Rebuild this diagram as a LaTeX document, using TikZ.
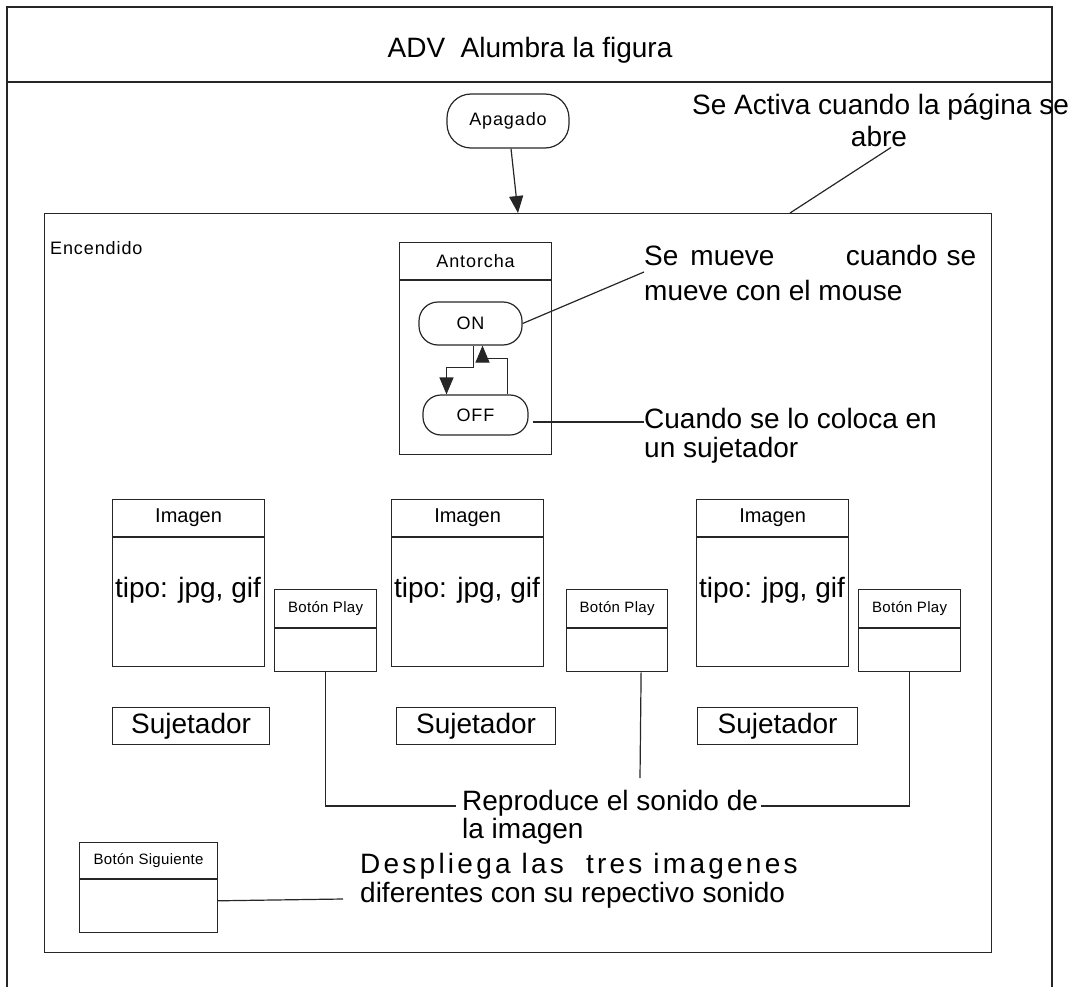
\documentclass[tikz,border=0pt]{standalone}
\usepackage{fontspec}
\setmainfont{Liberation Sans}
\newfontfamily\spfont[LetterSpace=5]{Liberation Sans}
\newfontfamily\btfont[LetterSpace=2]{Liberation Sans}
\newfontfamily\desfont[LetterSpace=11.6]{Liberation Sans}
\usetikzlibrary{arrows.meta}
\newcommand\myfs[1]{\fontsize{#1}{#1}\selectfont}
\begin{document}
\begin{tikzpicture}[x=1pt,y=-1pt,
 ln/.style={line width=1.2pt, draw=black!85},
 cls/.style={ln, rectangle, inner sep=0pt, anchor=north west},
 rnd/.style={ln, rectangle, inner sep=0pt},
 txt/.style={inner sep=0pt, anchor=base west},
 tip/.style={-{Triangle[length=17pt,width=14pt]}},
 sm/.style={font=\spfont\myfs{18}},
 bt/.style={font=\btfont\myfs{15}},
 big/.style={font=\myfs{28}},
]
\useasboundingbox (0,0) rectangle (1070,987);
% outer frame
\draw[ln] (7,995) -- (7,7) -- (1052,7) -- (1052,995);
\draw[ln] (7,82) -- (1052,82);
\node[txt, anchor=base, font=\myfs{28}] (title) at (530,58) {ADV~ Alumbra la figura};

% Apagado
\node[rnd, sm, minimum width=122, minimum height=54, rounded corners=24] (apagado) at (508,121) {Apagado};

% Encendido
\node[cls, minimum width=947, minimum height=739] (enc) at (44,213) {};
\node[txt, sm] (enclbl) at (50,254) {Encendido};
\coordinate (encTop) at (518,213);
\draw[ln, tip] ([xshift=3pt]apagado.south) -- (encTop);

% Se Activa
\node[txt, big] (act1) at (692,115) {Se Activa cuando la página se};
\node[txt, big, anchor=base] (act2) at (879,147) {abre};
\coordinate (actEnd) at (790,213);
\draw[ln] ([xshift=12pt]act2.south) -- (actEnd);

% Antorcha
\node[cls, sm, minimum width=152, minimum height=37] (antH) at (399,242) {Antorcha};
\node[cls, minimum width=152, minimum height=174] (antB) at (antH.south west) {};
\node[rnd, sm, minimum width=103, minimum height=43, rounded corners=19] (on) at (470.5,323.5) {ON};
\node[rnd, sm, minimum width=105, minimum height=40, rounded corners=18] (off) at (475.5,415) {OFF};
\draw[ln, tip] ([xshift=3pt]on.south) -- ++(0,22) -| ([xshift=-29pt]off.north);
\draw[ln, tip] ([xshift=32pt]off.north) -- ++(0,-36) -| ([xshift=12pt]on.south);

\node[txt, big] (mv1) at (644,265) {\hbox to 332pt{Se\hskip 12pt mueve\hfill cuando\hskip 9pt se}};
\node[txt, big] (mv2) at (644,300) {mueve con el mouse};
\draw[ln] (on.east) -- ([yshift=-7pt]mv1.base west);

\node[txt, big] (cs1) at (644,428) {Cuando se lo coloca en};
\node[txt, big] (cs2) at (644,457) {un sujetador};
\draw[ln] ([xshift=4pt,yshift=-7pt]off.east) -- ([yshift=6pt]cs1.base west);

% Imagen boxes
\node[cls, font=\myfs{20}, minimum width=152, minimum height=37] (img1h) at (112,499) {Imagen};
\node[cls, minimum width=152, minimum height=129] (img1b) at (img1h.south west) {};
\node[txt, anchor=base, big] (tipo1) at (188,597) {tipo: jpg, gif};

\node[cls, font=\myfs{20}, minimum width=152, minimum height=37] (img2h) at (391,499) {Imagen};
\node[cls, minimum width=152, minimum height=129] (img2b) at (img2h.south west) {};
\node[txt, anchor=base, big] (tipo2) at (467,597) {tipo: jpg, gif};

\node[cls, font=\myfs{20}, minimum width=152, minimum height=37] (img3h) at (696,499) {Imagen};
\node[cls, minimum width=152, minimum height=129] (img3b) at (img3h.south west) {};
\node[txt, anchor=base, big] (tipo3) at (772,597) {tipo: jpg, gif};

% Boton Play boxes
\node[cls, bt, minimum width=102, minimum height=38] (p1h) at (274,589) {Botón Play};
\node[cls, minimum width=102, minimum height=43] (p1b) at (p1h.south west) {};
\node[cls, bt, minimum width=101, minimum height=38] (p2h) at (566,589) {Botón Play};
\node[cls, minimum width=101, minimum height=43] (p2b) at (p2h.south west) {};
\node[cls, bt, minimum width=102, minimum height=38] (p3h) at (858,589) {Botón Play};
\node[cls, minimum width=102, minimum height=43] (p3b) at (p3h.south west) {};

% Sujetadores
\node[cls, font=\myfs{28}, minimum width=157, minimum height=37] (s1) at (112,707) {Sujetador};
\node[cls, font=\myfs{28}, minimum width=159, minimum height=37] (s2) at (396,707) {Sujetador};
\node[cls, font=\myfs{28}, minimum width=160, minimum height=37] (s3) at (697,707) {Sujetador};

% Reproduce
\node[txt, big] (rep1) at (462,810) {Reproduce el sonido de};
\node[txt, big] (rep2) at (462,838) {la imagen};
\draw[ln] (p1b.south) |- ([xshift=-6pt,yshift=4pt]rep1.base west);
\coordinate (repMid) at (640,778);
\draw[ln] ([xshift=24pt]p2b.south) -- (repMid);
\draw[ln] ([xshift=3pt,yshift=4pt]rep1.base east) -| (p3b.south);

% Boton Siguiente
\node[cls, bt, minimum width=138, minimum height=36] (bsh) at (79,842) {Botón Siguiente};
\node[cls, minimum width=138, minimum height=53] (bsb) at (bsh.south west) {};
\node[txt, font=\desfont\myfs{28}] (des1) at (360,873) {Despliega las\ \ tres imagenes};
\node[txt, big] (des2) at (360,902) {diferentes con su repectivo sonido};
\draw[ln] ([yshift=5.5pt]bsb.east) -- ([xshift=-17pt,yshift=3pt]des2.base west);
\end{tikzpicture}
\end{document}
